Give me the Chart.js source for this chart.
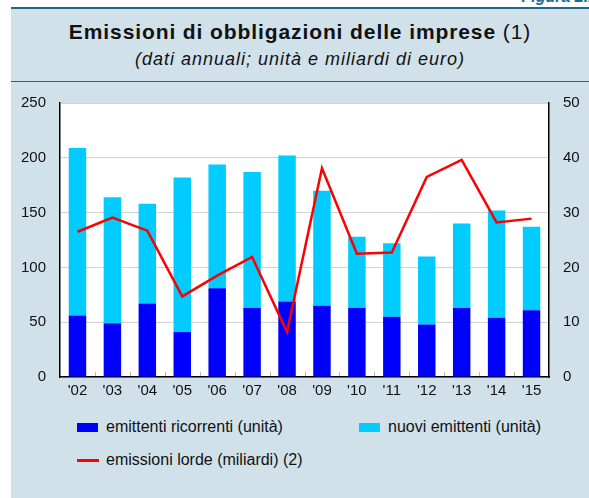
<!DOCTYPE html>
<html>
<head>
<meta charset="utf-8">
<script src="https://cdn.jsdelivr.net/npm/chart.js@4"></script>
<style>
  body { margin: 0; width: 589px; height: 498px; background: #fff; position: relative; overflow: hidden;
         font-family: "Liberation Sans", Arial, sans-serif; color: #111; }
  #fig { position: absolute; right: -8px; top: -12px; font-size: 16px; font-weight: bold; font-style: italic; color: #1b6a8a; }
  #panel { position: absolute; left: 11px; top: 7px; right: 0; bottom: 0; background: #d0e1ea; border-top: 2px solid #1d6a87; }
  #divider { position: absolute; left: 11px; right: 0; top: 81px; border-top: 1.5px solid #1d6a87; }
  #title { position: absolute; left: 11px; right: 0; top: 20px; text-align: center; font-size: 21px; letter-spacing: 0.9px; }
  #sub { position: absolute; left: 11px; right: 0; top: 49px; text-align: center; font-size: 18px; font-style: italic; letter-spacing: 1px; }
  #chart { position: absolute; left: 11px; top: 80px; }
  .leg { position: absolute; font-size: 16px; line-height: 18px; padding-left: 29px; white-space: nowrap; }
  .sw { position: absolute; left: 0; }
</style>
</head>
<body>
<div id="fig">Figura 2.1</div>
<div id="panel"></div>
<div id="divider"></div>
<div id="title"><b>Emissioni di obbligazioni delle imprese</b> (1)</div>
<div id="sub">(dati annuali; unità e miliardi di euro)</div>
<canvas id="chart" width="578" height="330"></canvas>
<div id="legend"></div>
<script>
const years = ["'02", "'03", "'04", "'05", "'06", "'07", "'08", "'09", "'10", "'11", "'12", "'13", "'14", "'15"];
const ricorrenti = [56, 49, 67, 41, 81, 63, 69, 65, 63, 55, 48, 63, 54, 61];
const nuovi = [153, 115, 91, 141, 113, 124, 133, 105, 65, 67, 62, 77, 98, 76];
const lorde = [26.5, 29.1, 26.7, 14.7, 18.5, 21.9, 8.2, 38.1, 22.5, 22.7, 36.5, 39.6, 28.2, 28.9];
const leftMax = 250, leftStep = 50;
const rightMax = 50, rightStep = 10;

const seriesNames = ['emittenti ricorrenti (unità)', 'nuovi emittenti (unità)', 'emissioni lorde (miliardi) (2)'];
const colors = ['#0000ff', '#00ccff', '#ff0000'];

Chart.defaults.font.family = '"Liberation Sans", Arial, sans-serif';
Chart.defaults.font.size = 15;
Chart.defaults.color = '#111';

// white plot area + little ticks between categories standing on the x axis
const plotDecor = {
  id: 'plotDecor',
  beforeDraw(chart) {
    const a = chart.chartArea;
    chart.ctx.save();
    chart.ctx.fillStyle = '#fff';
    chart.ctx.fillRect(a.left, a.top, a.right - a.left, a.bottom - a.top);
    chart.ctx.restore();
  },
  afterDraw(chart) {
    const x = chart.scales.x;
    const ctx = chart.ctx;
    const bottom = chart.chartArea.bottom;
    ctx.save();
    ctx.strokeStyle = '#b8b8b8';
    ctx.lineWidth = 1;
    for (let i = 1; i < years.length; i++) {
      const px = Math.round((x.getPixelForValue(i - 1) + x.getPixelForValue(i)) / 2) + 0.5;
      ctx.beginPath();
      ctx.moveTo(px, bottom - 1);
      ctx.lineTo(px, bottom - 5);
      ctx.stroke();
    }
    ctx.restore();
  }
};

new Chart(document.getElementById('chart'), {
  data: {
    labels: years,
    datasets: [
      { type: 'bar', label: seriesNames[0], data: ricorrenti, backgroundColor: colors[0], yAxisID: 'y', order: 1,
        barPercentage: 0.5, categoryPercentage: 1.0 },
      { type: 'bar', label: seriesNames[1], data: nuovi, backgroundColor: colors[1], yAxisID: 'y', order: 1,
        barPercentage: 0.5, categoryPercentage: 1.0 },
      { type: 'line', label: seriesNames[2], data: lorde, borderColor: colors[2], borderWidth: 2.5,
        pointRadius: 0, tension: 0, yAxisID: 'y1', order: 0 }
    ]
  },
  options: {
    responsive: false,
    animation: false,
    devicePixelRatio: 1,
    layout: { padding: { top: 3 } },
    plugins: { legend: { display: false }, tooltip: { enabled: false } },
    scales: {
      x: {
        stacked: true,
        grid: { display: false, drawTicks: false },
        border: { color: '#000', width: 1.5 },
        ticks: { padding: 5, maxRotation: 0 },
        afterFit(s) { s.height = 33; }
      },
      y: {
        stacked: true,
        position: 'left',
        min: 0, max: leftMax,
        ticks: { stepSize: leftStep, padding: 14 },
        grid: { color: '#d2d2d2', drawTicks: false },
        border: { color: '#000', width: 1.5 },
        afterFit(s) { s.width = 49; }
      },
      y1: {
        position: 'right',
        min: 0, max: rightMax,
        ticks: { stepSize: rightStep, padding: 14 },
        grid: { drawOnChartArea: false, drawTicks: false },
        border: { color: '#000', width: 1.5 },
        afterFit(s) { s.width = 40; }
      }
    }
  },
  plugins: [plotDecor]
});

// legend
const legendItems = [
  { name: seriesNames[0], color: colors[0], kind: 'box', left: 77, top: 418 },
  { name: seriesNames[1], color: colors[1], kind: 'box', left: 359, top: 418 },
  { name: seriesNames[2], color: colors[2], kind: 'line', left: 77, top: 451 }
];
let html = '';
legendItems.forEach(it => {
  const sw = it.kind === 'box'
    ? `<span class="sw" style="top:5px;width:21px;height:9px;background:${it.color}"></span>`
    : `<span class="sw" style="top:8px;width:22px;height:2.5px;background:${it.color}"></span>`;
  html += `<div class="leg" style="left:${it.left}px;top:${it.top}px">${sw}${it.name}</div>`;
});
document.getElementById('legend').innerHTML = html;
</script>
</body>
</html>
